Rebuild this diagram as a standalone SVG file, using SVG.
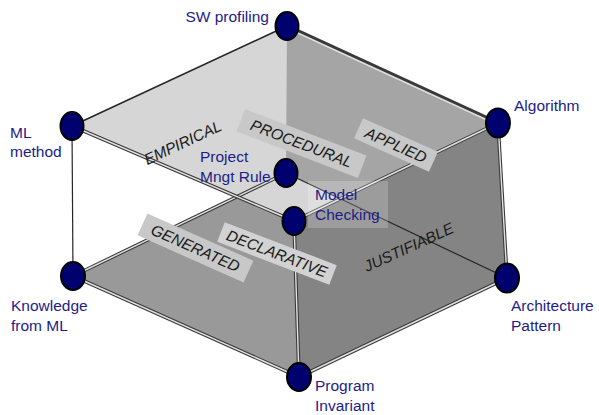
<svg xmlns="http://www.w3.org/2000/svg" width="599" height="415" viewBox="0 0 599 415">
<style>
.tubeo{stroke:#3a3a3a;stroke-width:3.6;fill:none;stroke-linecap:round}
.tubei{stroke:#e2e2e2;stroke-width:1.4;fill:none;stroke-linecap:round}
.thin{stroke:#262626;stroke-width:1.2;fill:none}
.node{fill:#00006e;stroke:#000;stroke-width:2}
.lbl{font-family:"Liberation Sans",Arial,sans-serif;font-size:15.5px;fill:#1c1c88}
.dim{font-family:"Liberation Sans",Arial,sans-serif;font-size:15.5px;font-style:italic;fill:#1a1a1a;text-anchor:middle}
.box{fill:#c8c8c8}
</style>
<rect width="599" height="415" fill="#fff"/>
<g id="faces">
<polygon points="73,276 286,173 507,278 299,377" fill="#999999"/>
<polygon points="287,26 72,126 294,221 498,123" fill="#d6d6d6"/>
<polygon points="287,26 498,123 507,278 286,173" fill="#a5a5a5"/>
<polygon points="294,221 498,123 507,278 299,377" fill="#848484"/>
</g>
<g id="connectors">
<line class="thin" x1="286" y1="173" x2="507" y2="278"/>
<line class="tubeo" x1="73" y1="276" x2="286" y2="173"/>
<line class="tubei" x1="73" y1="276" x2="286" y2="173"/>
<line class="thin" x1="287" y1="26" x2="72" y2="126" style="stroke-width:1.6"/>
<line class="thin" x1="72" y1="126" x2="73" y2="276"/>
<line class="tubeo" x1="287" y1="26" x2="498" y2="123"/>
<line class="tubei" x1="287" y1="28" x2="498" y2="125"/>
<line class="tubeo" x1="72" y1="126" x2="294" y2="221"/>
<line class="tubei" x1="72" y1="126" x2="294" y2="221"/>
<line class="tubeo" x1="294" y1="221" x2="498" y2="123"/>
<line class="tubei" x1="294" y1="221" x2="498" y2="123"/>
<line class="tubeo" x1="294" y1="221" x2="299" y2="377"/>
<line class="tubei" x1="294" y1="221" x2="299" y2="377"/>
<line class="tubeo" x1="498" y1="123" x2="507" y2="278"/>
<line class="tubei" x1="498" y1="123" x2="507" y2="278"/>
<line class="tubeo" x1="73" y1="276" x2="299" y2="377"/>
<line class="tubei" x1="73" y1="276" x2="299" y2="377"/>
<line class="tubeo" x1="299" y1="377" x2="507" y2="278"/>
<line class="tubei" x1="299" y1="377" x2="507" y2="278"/>
</g>
<g id="dimensions">
<text class="dim" transform="translate(185,147.5) rotate(-25)">EMPIRICAL</text>
<g transform="translate(301.5,143.5) rotate(21)"><rect class="box" x="-65" y="-12" width="130" height="24"/><text class="dim" y="5.5">PROCEDURAL</text></g>
<g transform="translate(396,145) rotate(24)"><rect class="box" x="-41" y="-11" width="82" height="22"/><text class="dim" y="5.5">APPLIED</text></g>
<g transform="translate(195.5,248) rotate(24)"><rect class="box" x="-58" y="-12" width="116" height="24"/><text class="dim" y="5.5">GENERATED</text></g>
<g transform="translate(277,253.5) rotate(21)"><rect x="-60" y="-10.5" width="120" height="21" fill="#d2d2d2"/><text class="dim" y="5.5">DECLARATIVE</text></g>
<text class="dim" transform="translate(411,252) rotate(-24.5)">JUSTIFIABLE</text>
</g>
<g id="node-sw">
<ellipse class="node" cx="287" cy="26" rx="11.5" ry="14"/>
<text class="lbl" x="269" y="22" text-anchor="end">SW profiling</text>
</g>
<g id="node-ml">
<ellipse class="node" cx="72" cy="126" rx="11.5" ry="14"/>
<text class="lbl" x="10" y="138">ML</text>
<text class="lbl" x="10" y="157">method</text>
</g>
<g id="node-alg">
<ellipse class="node" cx="498" cy="123" rx="12" ry="14.5"/>
<text class="lbl" x="514" y="111">Algorithm</text>
</g>
<g id="node-pmr">
<ellipse class="node" cx="286" cy="173" rx="11.5" ry="14"/>
<text class="lbl" x="200" y="162">Project</text>
<text class="lbl" x="200" y="182">Mngt Rule</text>
</g>
<g id="node-mc">
<rect x="308" y="181" width="80" height="47" fill="#fff" fill-opacity="0.2"/>
<ellipse class="node" cx="294" cy="221" rx="11.5" ry="14"/>
<text class="lbl" x="315" y="200">Model</text>
<text class="lbl" x="315" y="220">Checking</text>
</g>
<g id="node-kml">
<ellipse class="node" cx="73" cy="276" rx="12" ry="14"/>
<text class="lbl" x="11" y="311">Knowledge</text>
<text class="lbl" x="11" y="331">from ML</text>
</g>
<g id="node-ap">
<ellipse class="node" cx="507" cy="278" rx="12" ry="14.5"/>
<text class="lbl" x="511" y="311">Architecture</text>
<text class="lbl" x="511" y="331">Pattern</text>
</g>
<g id="node-pi">
<ellipse class="node" cx="299" cy="377" rx="12" ry="14"/>
<text class="lbl" x="315" y="391">Program</text>
<text class="lbl" x="315" y="411">Invariant</text>
</g>
</svg>
